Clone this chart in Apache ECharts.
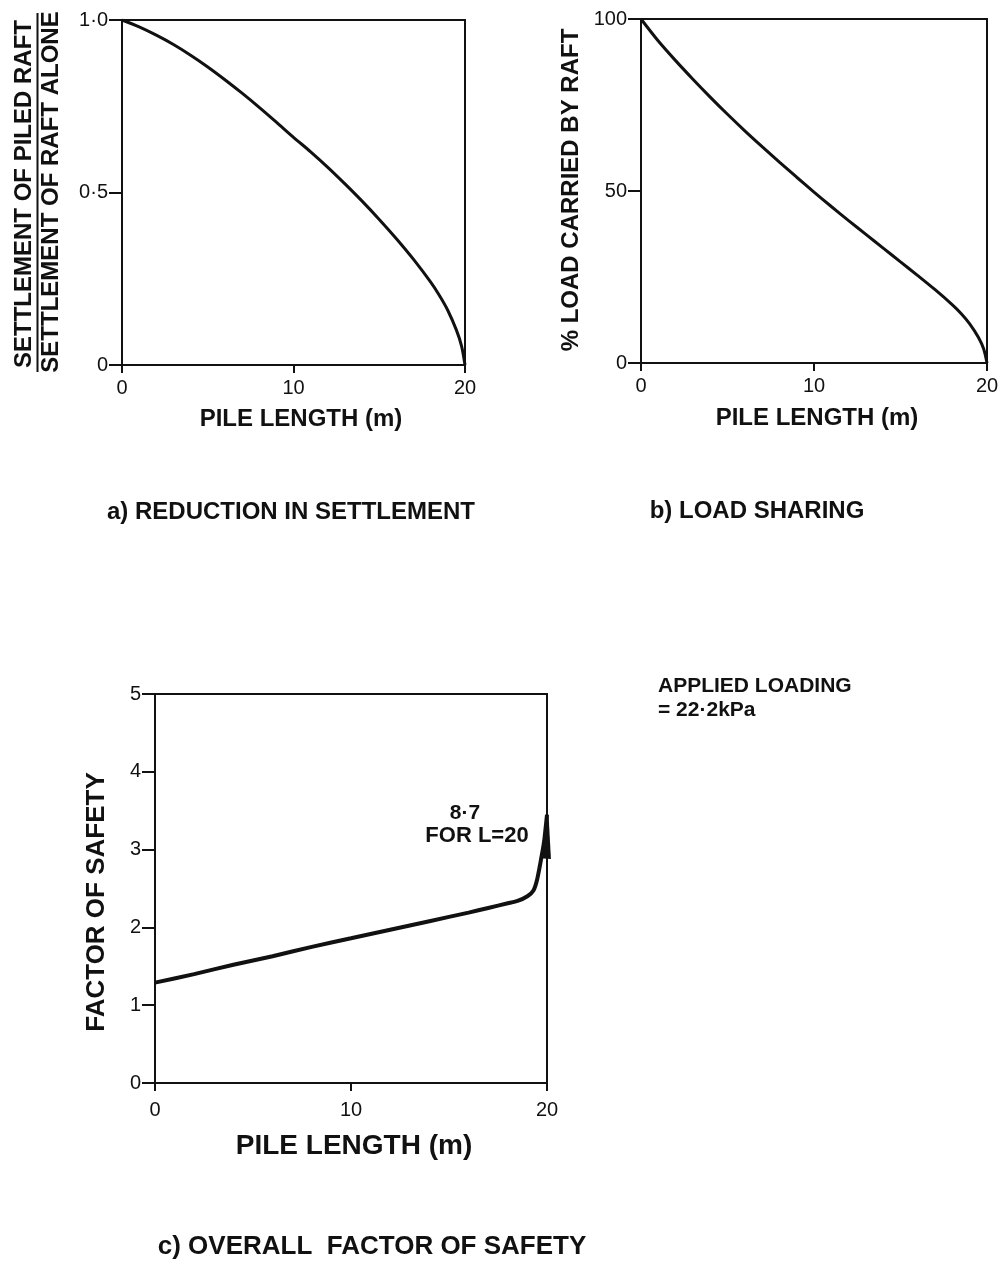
<!DOCTYPE html>
<html>
<head>
<meta charset="utf-8">
<title>Piled raft: settlement, load sharing and factor of safety</title>
<script src="https://cdn.jsdelivr.net/npm/echarts@6/dist/echarts.min.js"></script>
<style>
  html, body { margin: 0; padding: 0; background: #fff; }
  #chart { width: 1003px; height: 1262px; }
</style>
</head>
<body>
<div id="chart"></div>
<script>
// Pile length axis (m), shared by all three panels
const xTicks = [0, 10, 20];

// a) Settlement of piled raft / settlement of raft alone
const settleLen   = [0, 1, 2, 3, 4, 5, 6, 7, 8, 9, 10, 11, 12, 13, 14, 15, 16, 17, 18, 18.5, 19, 19.5, 19.8, 20];
const settleRatio = [1.0, 0.98, 0.956, 0.929, 0.898, 0.864, 0.827, 0.788, 0.747, 0.704, 0.66, 0.618, 0.573, 0.525, 0.475, 0.422, 0.366, 0.306, 0.24, 0.202, 0.158, 0.101, 0.055, 0];
const settleTicks = [0, 0.5, 1.0];

// b) Percentage of load carried by the raft
const shareLen  = [0, 1, 2, 3, 4, 5, 6, 7, 8, 9, 10, 11, 12, 13, 14, 15, 16, 17, 18, 18.5, 19, 19.5, 19.8, 20];
const sharePct  = [100, 93.6, 87.9, 82.5, 77.3, 72.3, 67.5, 62.9, 58.4, 54.0, 49.7, 45.5, 41.4, 37.4, 33.4, 29.4, 25.4, 21.3, 16.9, 14.4, 11.4, 7.5, 4.2, 0];
const shareTicks = [0, 50, 100];

// c) Overall factor of safety (value at L = 20 is off scale)
const fosLen = [0, 2, 4, 6, 8, 10, 12, 14, 16, 17, 18, 18.5, 19, 19.3, 19.5, 19.7, 19.85, 20];
const fosVal = [1.29, 1.4, 1.52, 1.63, 1.75, 1.86, 1.97, 2.08, 2.19, 2.25, 2.31, 2.34, 2.4, 2.47, 2.62, 2.88, 3.1, 3.45];
const fosTicks = [0, 1, 2, 3, 4, 5];
const fosAtL20 = 8.7;
const appliedLoad = 22.2; // kPa

const FONT = "'Liberation Sans', Arial, sans-serif";
const INK = '#111';
const dotted = v => String(v).replace('.', '·');

function xAxisFor(gridIndex, labelMargin) {
  return {
    type: 'value', gridIndex, min: xTicks[0], max: xTicks[xTicks.length - 1], interval: xTicks[1] - xTicks[0],
    axisLine: { onZero: false, lineStyle: { color: INK, width: 2 } },
    axisTick: { length: 8, lineStyle: { color: INK, width: 2 } },
    axisLabel: { margin: labelMargin, fontSize: 20, color: INK, fontFamily: FONT },
    splitLine: { show: false }
  };
}
function yAxisFor(gridIndex, ticks, fmt) {
  return {
    type: 'value', gridIndex, min: ticks[0], max: ticks[ticks.length - 1], interval: ticks[1] - ticks[0],
    axisLine: { onZero: false, lineStyle: { color: INK, width: 2 } },
    axisTick: { length: 13, lineStyle: { color: INK, width: 2 } },
    axisLabel: { margin: 14, fontSize: 20, color: INK, fontFamily: FONT, formatter: fmt },
    splitLine: { show: false }
  };
}
const pairs = (xs, ys) => xs.map((x, i) => [x, ys[i]]);

const fosData = pairs(fosLen, fosVal);
// arrow head at the end of the safety-factor curve
fosData[fosData.length - 1] = {
  value: fosData[fosData.length - 1],
  symbol: 'triangle', symbolSize: [11, 44], symbolOffset: [0, '50%'], symbolRotate: -4,
  itemStyle: { color: INK }
};

function txt(x, y, text, size, extra) {
  const el = {
    type: 'text', x, y,
    style: { text, fontSize: size, fontFamily: FONT, fontWeight: 'bold', fill: INK,
             textAlign: 'center', textVerticalAlign: 'middle' }
  };
  if (extra && extra.rotate) el.rotation = Math.PI / 2;
  if (extra && extra.left) el.style.textAlign = 'left';
  return el;
}

const option = {
  backgroundColor: '#fff',
  animation: false,
  grid: [
    { left: 122, top: 20, width: 343, height: 345, show: true, borderColor: INK, borderWidth: 2 },
    { left: 641, top: 19, width: 346, height: 344, show: true, borderColor: INK, borderWidth: 2 },
    { left: 155, top: 694, width: 392, height: 389, show: true, borderColor: INK, borderWidth: 2 }
  ],
  xAxis: [xAxisFor(0, 13), xAxisFor(1, 13), xAxisFor(2, 17)],
  yAxis: [
    yAxisFor(0, settleTicks, v => v === 0 ? '0' : dotted(v.toFixed(1))),
    yAxisFor(1, shareTicks, v => String(v)),
    yAxisFor(2, fosTicks, v => String(v))
  ],
  series: [
    { type: 'line', xAxisIndex: 0, yAxisIndex: 0, data: pairs(settleLen, settleRatio),
      smooth: 0.3, symbol: 'none', lineStyle: { color: INK, width: 3 } },
    { type: 'line', xAxisIndex: 1, yAxisIndex: 1, data: pairs(shareLen, sharePct),
      smooth: 0.3, symbol: 'none', lineStyle: { color: INK, width: 3 } },
    { type: 'line', xAxisIndex: 2, yAxisIndex: 2, data: fosData,
      smooth: 0.2, symbol: 'none', lineStyle: { color: INK, width: 4 } }
  ],
  graphic: [
    // a) fraction label on the vertical axis
    txt(24, 194, 'SETTLEMENT OF PILED RAFT', 24, { rotate: true }),
    { type: 'line', shape: { x1: 37.5, y1: 13, x2: 37.5, y2: 372 }, style: { stroke: INK, lineWidth: 2 } },
    txt(51, 192, 'SETTLEMENT OF RAFT ALONE', 24, { rotate: true }),
    txt(301, 419, 'PILE LENGTH (m)', 24),
    txt(291, 512, 'a) REDUCTION IN SETTLEMENT', 24),

    // b) load sharing
    txt(571, 190, '% LOAD CARRIED BY RAFT', 24, { rotate: true }),
    txt(817, 418, 'PILE LENGTH (m)', 24),
    txt(757, 511, 'b) LOAD SHARING', 24),

    // c) overall factor of safety
    txt(658, 686, 'APPLIED LOADING', 21, { left: true }),
    txt(658, 710, '= ' + dotted(appliedLoad) + 'kPa', 21, { left: true }),
    txt(97, 902, 'FACTOR OF SAFETY', 26, { rotate: true }),
    txt(354, 1146, 'PILE LENGTH (m)', 28),
    txt(372, 1247, 'c) OVERALL  FACTOR OF SAFETY', 26),
    txt(465, 813, dotted(fosAtL20), 21),
    txt(477, 836, 'FOR L=20', 22)
  ]
};

const chart = echarts.init(document.getElementById('chart'), null, { renderer: 'canvas' });
chart.setOption(option);
</script>
</body>
</html>
